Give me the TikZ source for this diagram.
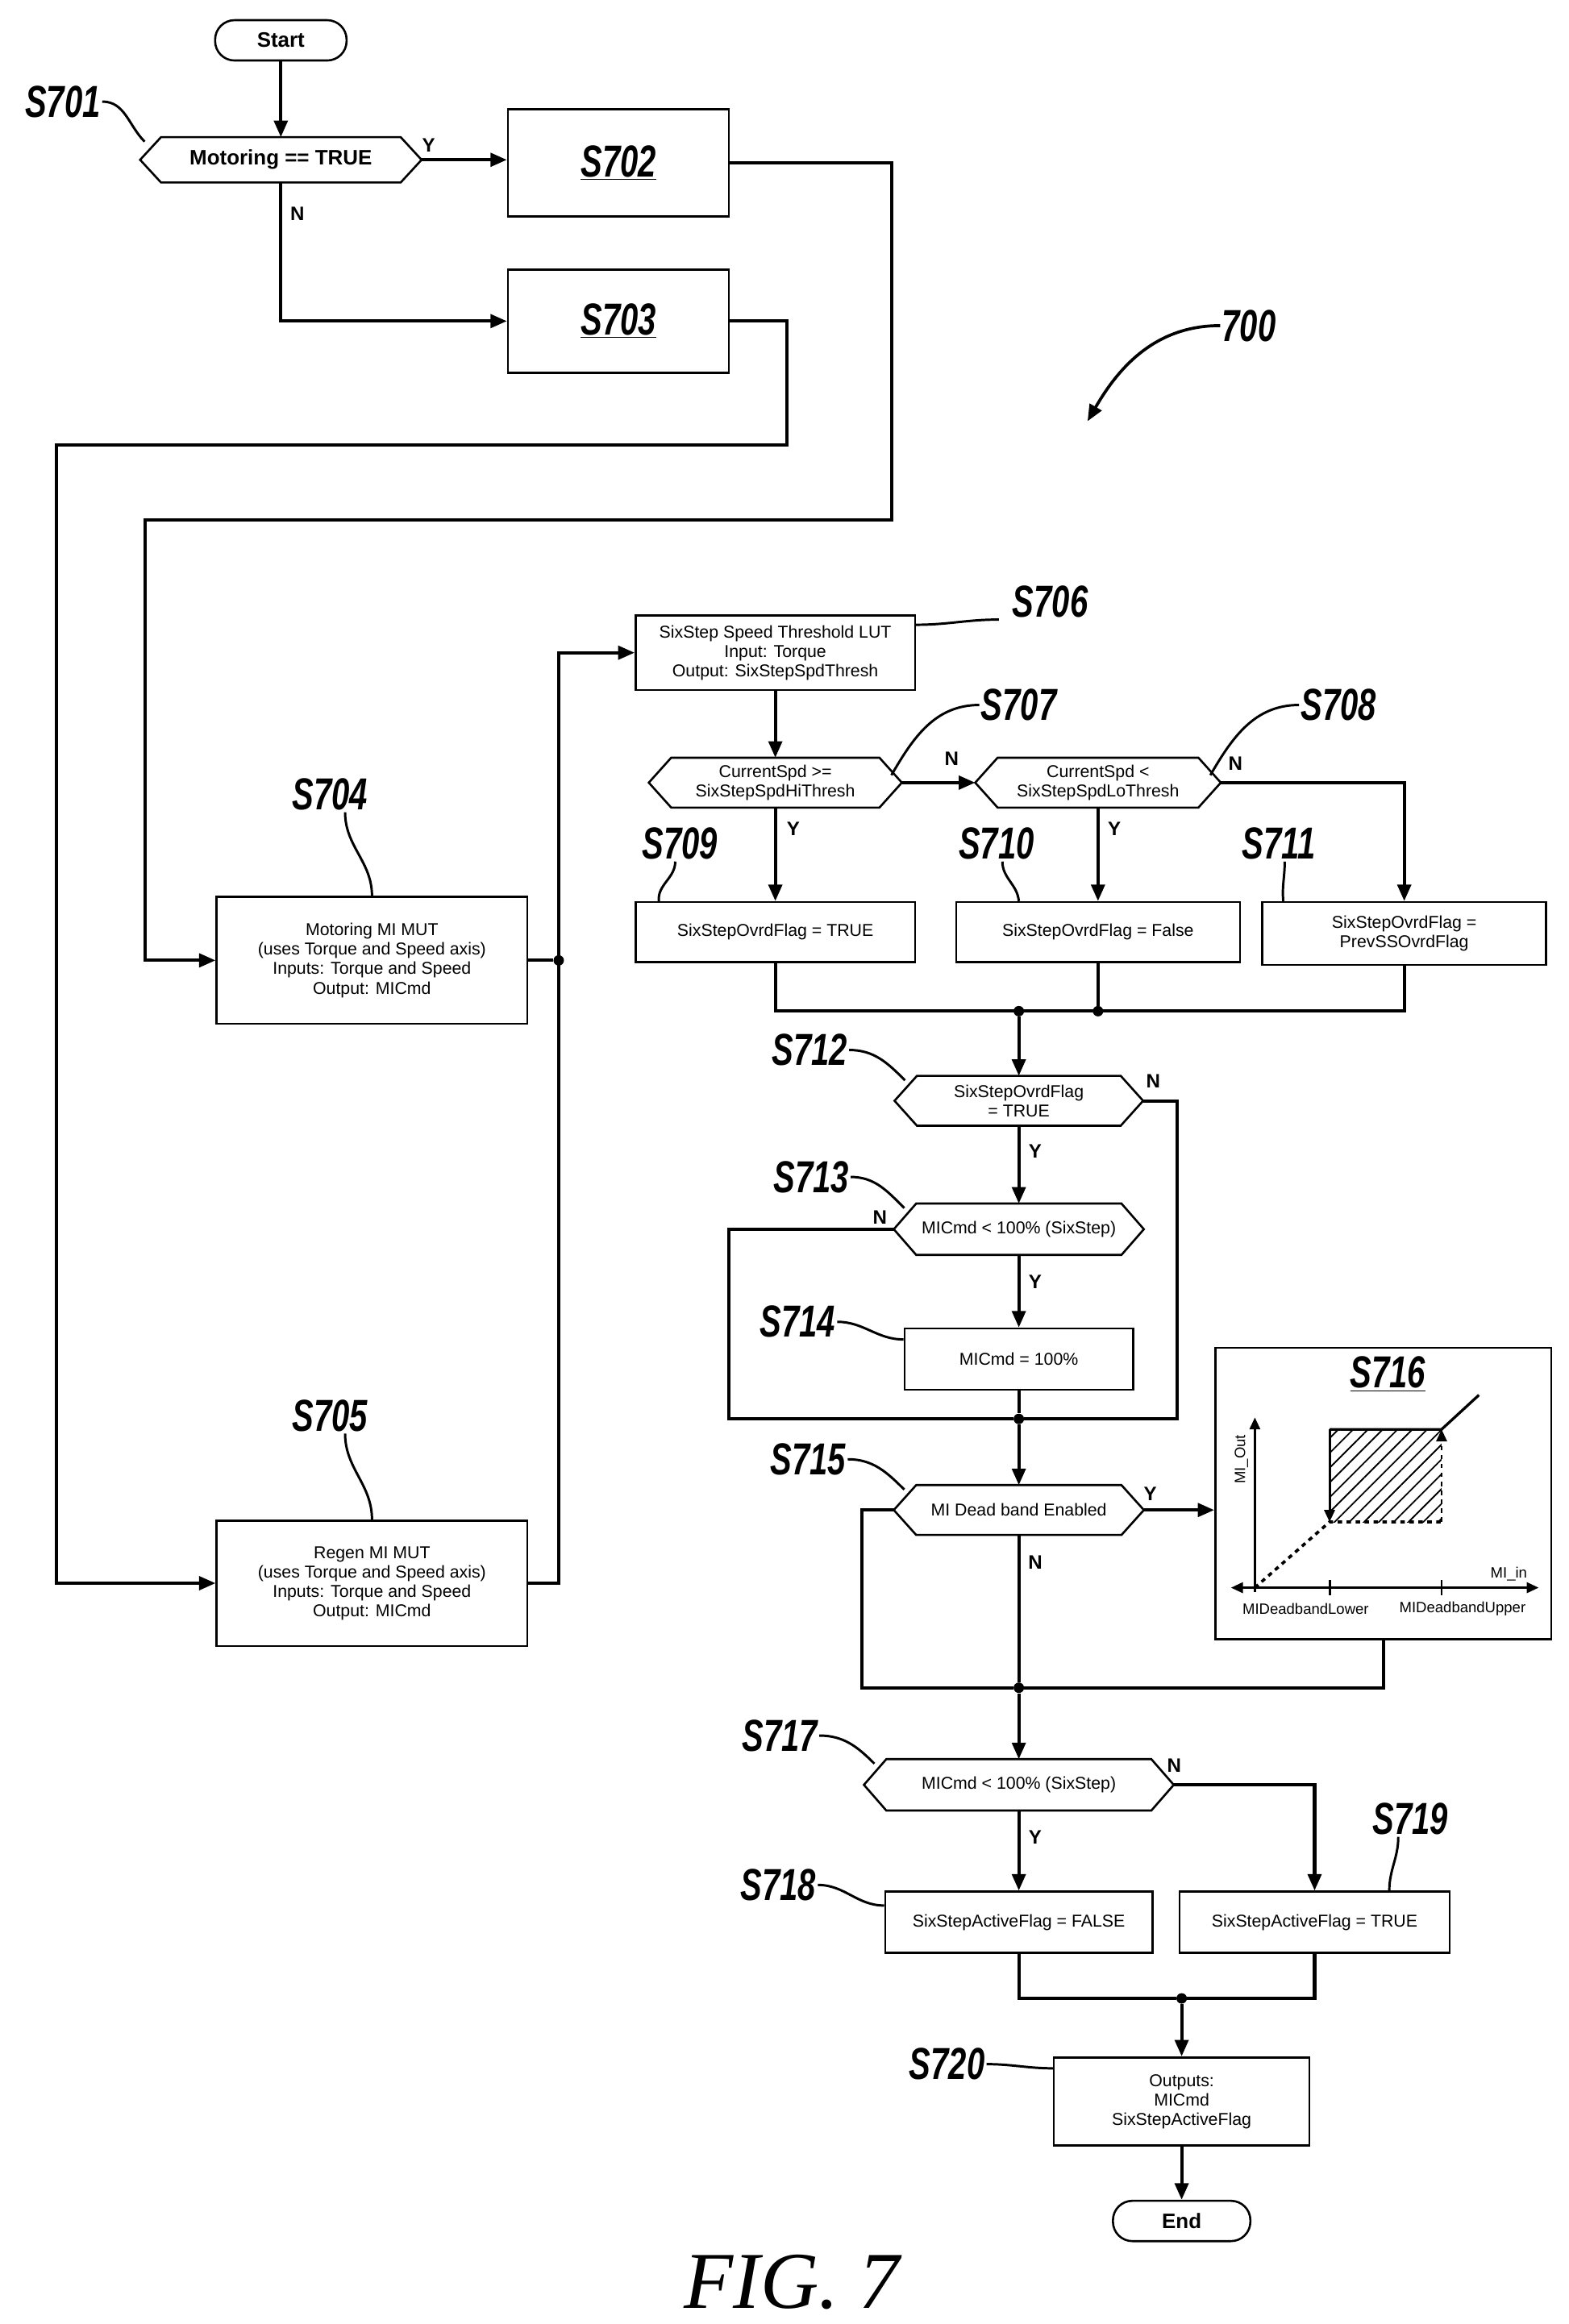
\documentclass[tikz,border=0pt]{standalone}
\usepackage{fontspec}
\setmainfont{Liberation Sans}
\newfontfamily\figfont{Liberation Serif}
\usetikzlibrary{arrows.meta,patterns.meta}
\newcommand{\slab}[1]{\scalebox{0.72}[1]{\fontsize{30}{30}\selectfont\bfseries\itshape #1}}
\begin{document}
\begin{tikzpicture}[x=1pt,y=-1pt,
  box/.style={draw,line width=1.4pt,align=center,font=\fontsize{11.5}{13}\selectfont,inner sep=2pt},
  hx/.style={align=center,font=\fontsize{11.5}{13}\selectfont,inner sep=0pt},
  pill/.style={draw,line width=1.4pt,rounded corners=13pt,font=\fontsize{14}{16}\selectfont\bfseries,minimum height=27pt},
  lab/.style={inner sep=1pt},
  yn/.style={font=\fontsize{13}{14}\selectfont\bfseries,inner sep=0pt},
  con/.style={line width=2.2pt},
  arr/.style={con,-{Triangle[length=11pt,width=9pt]}},
  lead/.style={line width=1.6pt},
  dot/.style={circle,fill,inner sep=0pt,minimum size=7pt}]
\useasboundingbox (0,0) rectangle (1050,1556);
\def\hexdraw#1#2{\draw[line width=1.4pt] (#1.west) -- ([xshift=#2]#1.north west) -- ([xshift=-#2]#1.north east) -- (#1.east) -- ([xshift=-#2]#1.south east) -- ([xshift=#2]#1.south west) -- cycle;}
% nodes
\node[pill,minimum width=88pt] (start) at (188,27) {Start};
\node[hx,minimum width=188pt,minimum height=30pt,font=\fontsize{14}{16}\selectfont\bfseries] (s701) at (188,107) {Motoring == TRUE}; \hexdraw{s701}{14pt}
\node[box,minimum width=148pt,minimum height=72pt] (s702) at (414,109) {\slab{\underline{S702}}};
\node[box,minimum width=148pt,minimum height=69pt] (s703) at (414,215) {\slab{\underline{S703}}};
\node[box,minimum width=208pt,minimum height=85pt] (s704) at (249,643) {Motoring MI MUT\\(uses Torque and Speed axis)\\Inputs: Torque and Speed\\Output: MICmd};
\node[box,minimum width=208pt,minimum height=84pt] (s705) at (249,1060) {Regen MI MUT\\(uses Torque and Speed axis)\\Inputs: Torque and Speed\\Output: MICmd};
\node[box,minimum width=187pt,minimum height=50pt] (s706) at (519,437) {SixStep Speed Threshold LUT\\Input: Torque\\Output: SixStepSpdThresh};
\node[hx,minimum width=169pt,minimum height=33pt] (s707) at (519,524) {CurrentSpd >=\\SixStepSpdHiThresh}; \hexdraw{s707}{15pt}
\node[hx,minimum width=164pt,minimum height=33pt] (s708) at (735,524) {CurrentSpd <\\SixStepSpdLoThresh}; \hexdraw{s708}{15pt}
\node[box,minimum width=187pt,minimum height=40pt] (s709) at (519,624) {SixStepOvrdFlag = TRUE};
\node[box,minimum width=190pt,minimum height=40pt] (s710) at (735,624) {SixStepOvrdFlag = False};
\node[box,minimum width=190pt,minimum height=42pt] (s711) at (940,625) {SixStepOvrdFlag =\\PrevSSOvrdFlag};
\node[hx,minimum width=166pt,minimum height=33pt] (s712) at (682,737) {SixStepOvrdFlag\\= TRUE}; \hexdraw{s712}{15pt}
\node[hx,minimum width=167pt,minimum height=34pt] (s713) at (682,823) {MICmd < 100\% (SixStep)}; \hexdraw{s713}{15pt}
\node[box,minimum width=153pt,minimum height=41pt] (s714) at (682,910) {MICmd = 100\%};
\node[hx,minimum width=167pt,minimum height=33pt] (s715) at (682,1011) {MI Dead band Enabled}; \hexdraw{s715}{15pt}
\node[box,minimum width=225pt,minimum height=195pt] (s716) at (926,1000) {};
\node[hx,minimum width=207pt,minimum height=34pt] (s717) at (682,1195) {MICmd < 100\% (SixStep)}; \hexdraw{s717}{15pt}
\node[box,minimum width=179pt,minimum height=41pt] (s718) at (682,1287) {SixStepActiveFlag = FALSE};
\node[box,minimum width=181pt,minimum height=41pt] (s719) at (880,1287) {SixStepActiveFlag = TRUE};
\node[box,minimum width=171pt,minimum height=59pt] (s720) at (791,1407) {Outputs:\\MICmd\\SixStepActiveFlag};
\node[pill,minimum width=92pt] (end) at (791,1487) {End};
% connectors
\draw[arr] (start) -- (s701);
\draw[arr] (s701.east) -- (s701.east -| s702.west);
\node[yn] at (287,97) {Y};
\node[yn] at (199,143) {N};
\draw[arr] (s701.south) |- (s703.west);
\coordinate (a1) at (597,348); \coordinate (a2) at (97,348);
\draw[arr] (s702.east) -| (a1) -- (a2) |- (s704.west);
\coordinate (b1) at (527,298); \coordinate (b2) at (38,298);
\draw[arr] (s703.east) -| (b1) -- (b2) |- (s705.west);
\node[dot] (j1) at (374,643) {};
\draw[con] (s704.east) -- (j1);
\coordinate (c1) at (374,1060);
\draw[arr] (s705.east) -- (c1) |- (s706.west);
\draw[arr] (s706) -- (s707);
\draw[arr] (s707.east) -- (s708.west);
\node[yn] at (637,508) {N};
\node[yn] at (827,511) {N};
\draw[arr] (s708.east) -| (s711.north);
\draw[arr] (s707.south) -- (s709.north);
\node[yn] at (531,555) {Y};
\draw[arr] (s708.south) -- (s710.north);
\node[yn] at (746,555) {Y};
\coordinate (m1) at (519,677); \coordinate (m2) at (940,677);
\node[dot] (j2) at (682,677) {};
\node[dot] (j3) at (735,677) {};
\draw[con] (s709.south) -- (m1) -- (m2) -- (s711.south);
\draw[con] (s710.south) -- (j3);
\draw[arr] (j2) -- (s712.north);
\node[yn] at (772,724) {N};
\node[dot] (j4) at (682,950) {};
\coordinate (d1) at (788,737); \coordinate (d2) at (488,823);
\draw[con] (s712.east) -- (d1) |- (j4);
\draw[con] (s713.west) -- (d2) |- (j4);
\node[yn] at (589,815) {N};
\draw[arr] (s712.south) -- (s713.north);
\node[yn] at (693,771) {Y};
\draw[arr] (s713.south) -- (s714.north);
\node[yn] at (693,858) {Y};
\draw[con] (s714.south) -- (j4);
\draw[arr] (j4) -- (s715.north);
\draw[arr] (s715.east) -- (s715.east -| s716.west);
\node[yn] at (770,1000) {Y};
\node[yn] at (693,1046) {N};
\node[dot] (j5) at (682,1130) {};
\coordinate (e1) at (577,1011);
\draw[con] (s715.west) -- (e1) |- (j5);
\draw[con] (s716.south) |- (j5);
\draw[con] (s715.south) -- (j5);
\draw[arr] (j5) -- (s717.north);
\draw[arr] (s717.south) -- (s718.north);
\node[yn] at (693,1230) {Y};
\draw[arr] (s717.east) -| (s719.north);
\node[yn] at (786,1182) {N};
\node[dot] (j6) at (791,1338) {};
\draw[con] (s718.south) |- (j6);
\draw[con] (s719.south) |- (j6);
\draw[arr] (j6) -- (s720.north);
\draw[arr] (s720.south) -- (end.north);
% S716 graph
\node[lab] (t716) at (929,920) {\slab{\underline{S716}}};
\fill[pattern={Lines[angle=45,distance=7pt,line width=1pt]}] (890,957) rectangle (965,1019);
\draw[line width=1.6pt,{Triangle[length=8pt,width=7pt]}-{Triangle[length=8pt,width=7pt]}] (824,1063) -- (1030,1063);
\draw[line width=1.6pt,-{Triangle[length=8pt,width=7pt]}] (840,1066) -- (840,949);
\draw[line width=1.6pt] (890,1058) -- (890,1068) (965,1058) -- (965,1068);
\draw[line width=2pt,dashed] (840,1063) -- (890,1019) -- (965,1019);
\draw[line width=1.6pt,dashed,-{Triangle[length=8pt,width=7pt]}] (965,1019) -- (965,957);
\draw[line width=1.6pt,-{Triangle[length=8pt,width=7pt]}] (890,957) -- (890,1019);
\draw[line width=1.8pt] (890,957) -- (965,957) -- (990,934);
\node[rotate=90,font=\fontsize{10}{11}\selectfont] at (831,977) {MI\_Out};
\node[font=\fontsize{10}{11}\selectfont] at (1010,1054) {MI\_in};
\node[font=\fontsize{10}{11}\selectfont] at (874,1077) {MIDeadbandLower};
\node[font=\fontsize{10}{11}\selectfont] at (979,1077) {MIDeadbandUpper};
% step labels and leaders
\node[lab] (l701) at (42,68) {\slab{S701}};
\draw[lead] (l701.east) to[out=0,in=135] ([xshift=3pt,yshift=-3pt]s701.north west);
\node[lab] (l704) at (221,532) {\slab{S704}};
\draw[lead] ([xshift=10pt]l704.south) to[out=-90,in=90] (s704.north);
\node[lab] (l705) at (221,948) {\slab{S705}};
\draw[lead] ([xshift=10pt]l705.south) to[out=-90,in=90] (s705.north);
\node[lab] (l706) at (703,403) {\slab{S706}};
\draw[lead] ([xshift=-8pt]l706.south west) to[out=180,in=0] ([yshift=-7pt]s706.north east);
\node[lab] (l707) at (682,472) {\slab{S707}};
\draw[lead] (l707.west) to[out=180,in=60] ([xshift=-7pt,yshift=5pt]s707.east);
\node[lab] (l708) at (896,472) {\slab{S708}};
\draw[lead] (l708.west) to[out=180,in=60] ([xshift=-7pt,yshift=5pt]s708.east);
\node[lab] (l709) at (455,565) {\slab{S709}};
\draw[lead] ([xshift=-3pt]l709.south) to[out=-90,in=95] ([xshift=-78pt]s709.north);
\node[lab] (l710) at (667,565) {\slab{S710}};
\draw[lead] ([xshift=4pt]l710.south) to[out=-90,in=95] ([xshift=-53pt]s710.north);
\node[lab] (l711) at (856,565) {\slab{S711}};
\draw[lead] ([xshift=4pt]l711.south) to[out=-90,in=95] ([xshift=-81pt]s711.north);
\node[lab] (l712) at (542,703) {\slab{S712}};
\draw[lead] (l712.east) to[out=0,in=135] ([xshift=7pt,yshift=-3pt]s712.north west);
\node[lab] (l713) at (543,788) {\slab{S713}};
\draw[lead] (l713.east) to[out=0,in=135] ([xshift=7pt,yshift=-3pt]s713.north west);
\node[lab] (l714) at (534,885) {\slab{S714}};
\draw[lead] (l714.east) to[out=0,in=180] ([yshift=-8pt]s714.north west);
\node[lab] (l715) at (541,977) {\slab{S715}};
\draw[lead] (l715.east) to[out=0,in=135] ([xshift=7pt,yshift=-3pt]s715.north west);
\node[lab] (l717) at (522,1162) {\slab{S717}};
\draw[lead] (l717.east) to[out=0,in=135] ([xshift=7pt,yshift=-3pt]s717.north west);
\node[lab] (l718) at (521,1262) {\slab{S718}};
\draw[lead] (l718.east) to[out=0,in=180] ([yshift=-10pt]s718.north west);
\node[lab] (l719) at (944,1218) {\slab{S719}};
\draw[lead] ([xshift=-8pt]l719.south) to[out=-90,in=90] ([xshift=50pt]s719.north);
\node[lab] (l720) at (634,1382) {\slab{S720}};
\draw[lead] (l720.east) to[out=0,in=180] ([yshift=-8pt]s720.north west);
% 700
\node[lab] (l700) at (836,218) {\slab{700}};
\coordinate (p700) at (728,282);
\draw[lead,line width=2pt,-{Triangle[length=11pt,width=9pt]}] (l700.west) to[out=180,in=60] (p700);
% figure caption
\node (fig) at (530,1528) {\figfont\fontsize{54}{56}\selectfont\itshape FIG. 7};
\end{tikzpicture}
\end{document}
